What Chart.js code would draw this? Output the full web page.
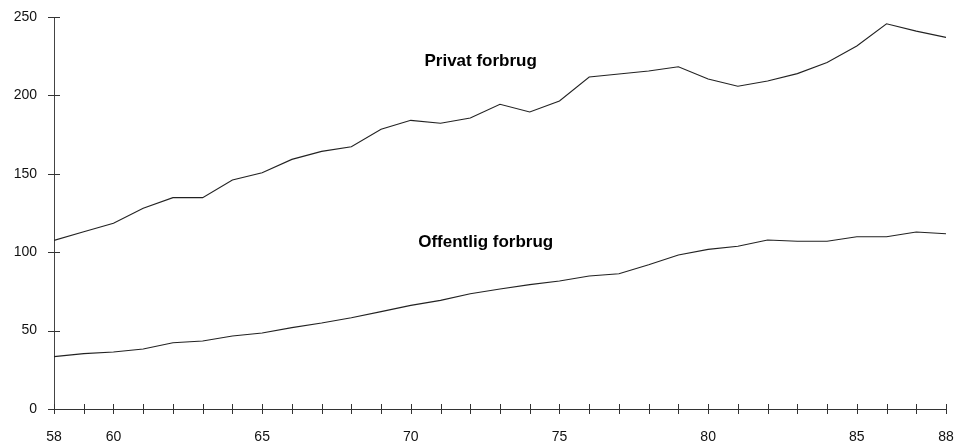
<!DOCTYPE html>
<html>
<head>
<meta charset="utf-8">
<script src="https://cdn.jsdelivr.net/npm/chart.js@4/dist/chart.umd.min.js"></script>
<style>
  html, body { margin: 0; padding: 0; background: #fff; }
  #wrap { width: 966px; height: 445px; position: relative; }
</style>
</head>
<body>
<div id="wrap"><canvas id="c"></canvas></div>
<script>
const years = [58,59,60,61,62,63,64,65,66,67,68,69,70,71,72,73,74,75,76,77,78,79,80,81,82,83,84,85,86,87,88];
const privat = [107.5,113,118.5,128,134.8,134.8,146,150.7,159.2,164.3,167.3,178.4,184.1,182.2,185.6,194.3,189.4,196.4,211.7,213.6,215.6,218.3,210.5,205.8,209.2,213.9,221,231.5,245.7,241,237];
const offentlig = [33.4,35.3,36.4,38.3,42.3,43.4,46.6,48.5,51.9,54.8,58.2,62.1,66.1,69.3,73.5,76.5,79.3,81.6,84.8,86.3,92,98.2,101.8,103.8,107.8,107,107,109.9,109.9,112.9,111.8];
const xLabelYears = [58,60,65,70,75,80,85,88];
const yTicks = [0,50,100,150,200,250];
const seriesNames = ['Privat forbrug','Offentlig forbrug'];

const labelAnchors = [
  {text: seriesNames[0], x: 72.35, y: 221.5},
  {text: seriesNames[1], x: 72.52, y: 106.5}
];

const crossTicks = {
  id: 'crossTicks',
  afterDraw(chart) {
    const ctx = chart.ctx;
    const xs = chart.scales.x, ys = chart.scales.y;
    const y0 = ys.getPixelForValue(0);
    const x0 = xs.getPixelForValue(58);
    ctx.save();
    ctx.strokeStyle = '#333';
    ctx.lineWidth = 1;
    ctx.beginPath();
    years.forEach(v => {
      const px = Math.round(xs.getPixelForValue(v)) + 0.5;
      ctx.moveTo(px, y0 - 5); ctx.lineTo(px, y0 + 5);
    });
    yTicks.forEach(v => {
      const py = Math.round(ys.getPixelForValue(v)) + 0.5;
      ctx.moveTo(x0 - 6, py); ctx.lineTo(x0 + 6, py);
    });
    ctx.stroke();
    ctx.fillStyle = '#000';
    ctx.font = 'bold 17px "Liberation Sans", Arial, sans-serif';
    ctx.textAlign = 'center';
    ctx.textBaseline = 'middle';
    labelAnchors.forEach(a => {
      ctx.fillText(a.text, xs.getPixelForValue(a.x), ys.getPixelForValue(a.y));
    });
    ctx.restore();
  }
};

new Chart(document.getElementById('c'), {
  type: 'line',
  data: {
    datasets: [
      { label: seriesNames[0], data: years.map((y,i) => ({x: y, y: privat[i]})), borderColor: '#222', borderWidth: 1.1, pointRadius: 0, tension: 0, fill: false },
      { label: seriesNames[1], data: years.map((y,i) => ({x: y, y: offentlig[i]})), borderColor: '#222', borderWidth: 1.1, pointRadius: 0, tension: 0, fill: false }
    ]
  },
  options: {
    responsive: true,
    maintainAspectRatio: false,
    animation: false,
    layout: { padding: { top: 17, right: 20, left: 0, bottom: 0 } },
    plugins: { legend: { display: false }, tooltip: { enabled: false } },
    scales: {
      x: {
        type: 'linear', min: 58, max: 88,
        afterBuildTicks(scale) { scale.ticks = xLabelYears.map(v => ({value: v})); },
        afterFit(scale) { scale.height = 36; },
        grid: { display: true, drawOnChartArea: false, drawTicks: true, tickLength: 20, color: 'rgba(0,0,0,0)' },
        border: { display: true, color: '#333', width: 1 },
        ticks: { padding: 0, color: '#111', font: { family: '"Liberation Sans", Arial, sans-serif', size: 14 }, maxRotation: 0, autoSkip: false, callback: v => String(v) }
      },
      y: {
        min: 0, max: 250,
        afterBuildTicks(scale) { scale.ticks = yTicks.map(v => ({value: v})); },
        afterFit(scale) { scale.width = 54; },
        grid: { display: true, drawOnChartArea: false, drawTicks: true, tickLength: 17, color: 'rgba(0,0,0,0)' },
        border: { display: true, color: '#444', width: 1 },
        ticks: { padding: 0, color: '#111', font: { family: '"Liberation Sans", Arial, sans-serif', size: 14 } }
      }
    }
  },
  plugins: [crossTicks]
});
</script>
</body>
</html>
